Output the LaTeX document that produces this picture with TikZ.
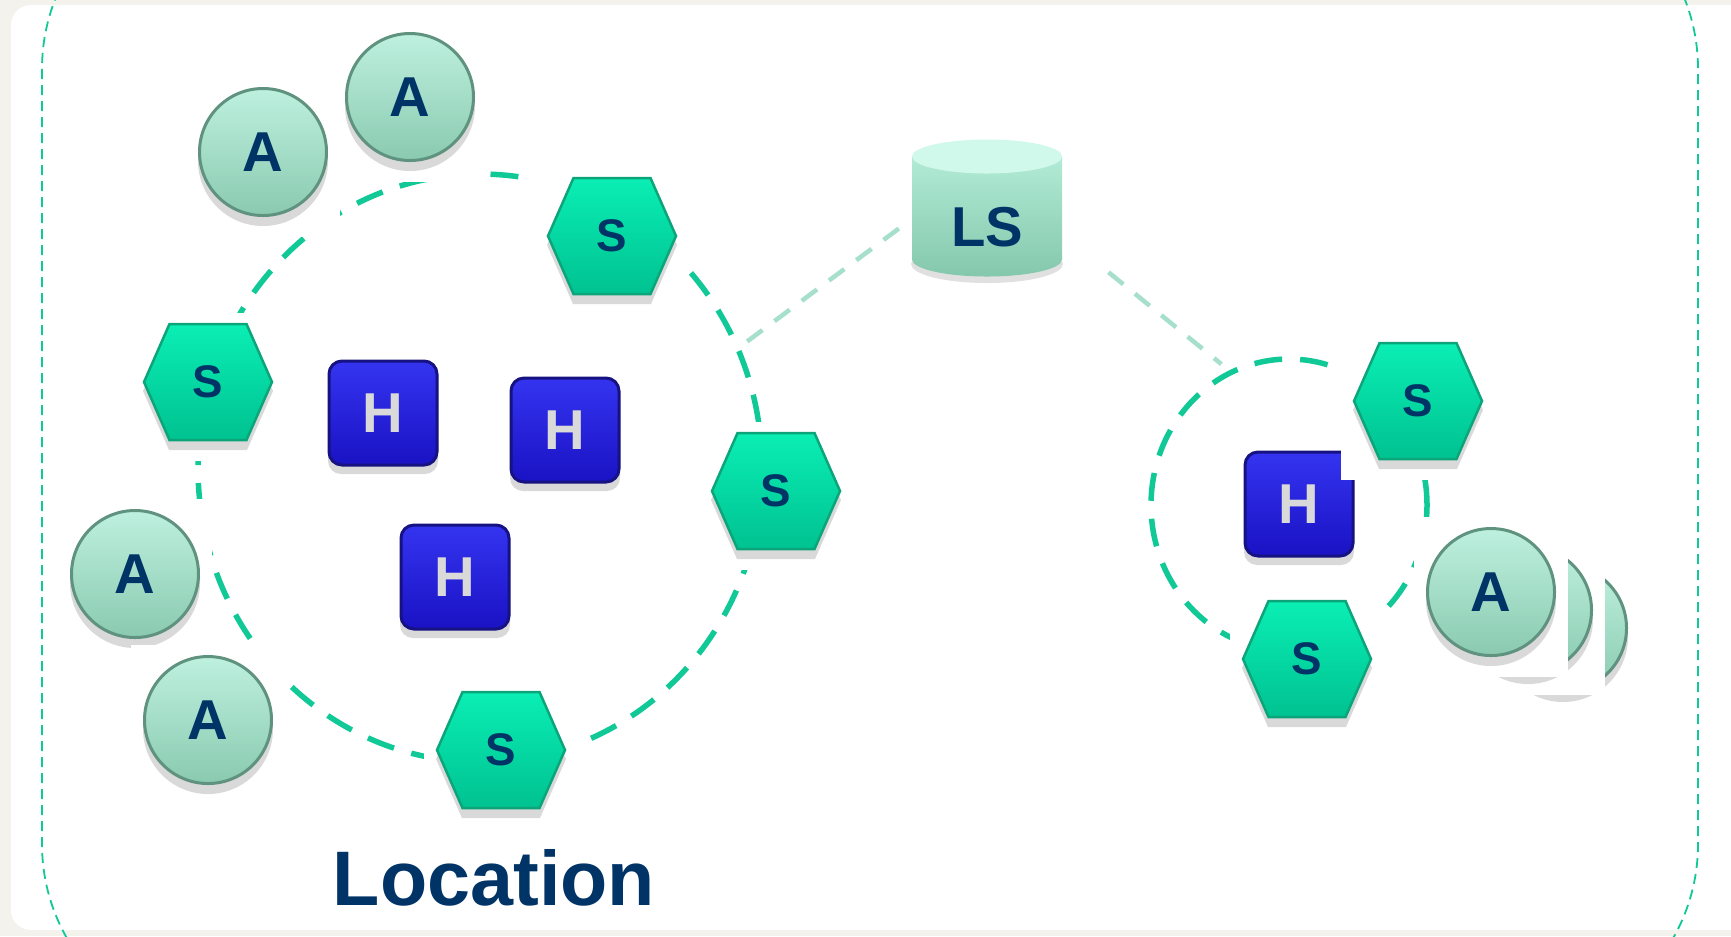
\documentclass[tikz,border=0pt]{standalone}
\usepackage{fontspec}
\setmainfont{Liberation Sans}
\usepackage{xcolor}
\usepackage{tikz}
\usetikzlibrary{shapes.geometric}
\definecolor{navy}{RGB}{0,51,102}
\definecolor{ringgreen}{RGB}{16,201,150}
\definecolor{linkgreen}{RGB}{166,224,204}
\definecolor{paper}{RGB}{244,242,237}
\definecolor{agenttop}{RGB}{190,240,223}
\definecolor{agentbot}{RGB}{138,202,176}
\definecolor{agentline}{RGB}{96,146,128}
\definecolor{servtop}{RGB}{10,238,180}
\definecolor{servbot}{RGB}{0,194,145}
\definecolor{servline}{RGB}{12,165,122}
\definecolor{hosttop}{RGB}{52,52,240}
\definecolor{hostbot}{RGB}{26,18,196}
\definecolor{hostline}{RGB}{22,18,130}
\definecolor{hostfont}{RGB}{217,217,217}
\definecolor{lslid}{RGB}{208,248,235}
\definecolor{lstop}{RGB}{178,235,214}
\definecolor{lsbot}{RGB}{132,200,172}
\tikzset{
    icon/.style={rectangle, fill=white, inner sep=0pt, yshift=-0.5mm, text depth=1mm,
        font=\bfseries\fontsize{16}{16}\selectfont, text=navy},
    agent/.style={icon, minimum width=15.4mm, minimum height=16mm,
        path picture={
            \fill[black, opacity=.15] ([yshift=-0.4mm]path picture bounding box.center) circle (6.5mm);
            \shadedraw[draw=agentline, line width=.3mm, top color=agenttop, bottom color=agentbot]
                ([yshift=0.5mm]path picture bounding box.center) circle (6.35mm);}},
    server/.style={icon, minimum width=15.4mm, minimum height=14.8mm,
        font=\bfseries\fontsize{13}{13}\selectfont,
        path picture={
            \fill[black, opacity=.15] ([shift={(6.5mm,-0.4mm)}]path picture bounding box.center)
                -- ++(-2.6mm,5.9mm) -- ++(-7.8mm,0mm) -- ++(-2.6mm,-5.9mm) -- ++(2.6mm,-5.9mm) -- ++(7.8mm,0mm) -- cycle;
            \shadedraw[draw=servline, line width=.25mm, top color=servtop, bottom color=servbot]
                ([shift={(6.4mm,0.5mm)}]path picture bounding box.center)
                -- ++(-2.55mm,5.8mm) -- ++(-7.7mm,0mm) -- ++(-2.55mm,-5.8mm) -- ++(2.55mm,-5.8mm) -- ++(7.7mm,0mm) -- cycle;}},
    host/.style={icon, minimum width=13.5mm, minimum height=13.6mm, text=hostfont,
        path picture={
            \fill[black, opacity=.15, rounded corners=1.3mm]
                ([shift={(-5.5mm,-5.6mm)}]path picture bounding box.center) rectangle ++(11mm,10.4mm);
            \shadedraw[draw=hostline, line width=.3mm, rounded corners=1.3mm, top color=hosttop, bottom color=hostbot]
                ([shift={(-5.4mm,-4.7mm)}]path picture bounding box.center) rectangle ++(10.8mm,10.4mm);}},
    store/.style={icon, minimum width=17.5mm, minimum height=16.7mm, text depth=0pt, text height=6.6mm,
        path picture={
            \fill[black, opacity=.12] ([yshift=-5.1mm]path picture bounding box.center) ellipse (7.6mm and 1.9mm);
            \shade[top color=lstop, bottom color=lsbot] ([shift={(-7.5mm,5.65mm)}]path picture bounding box.center)
                -- ++(0mm,-10.3mm) arc[start angle=180, end angle=360, x radius=7.5mm, y radius=1.7mm]
                -- ++(0mm,10.3mm) -- cycle;
            \fill[lslid] ([yshift=5.65mm]path picture bounding box.center) ellipse (7.5mm and 1.7mm);}},
    ring/.style={ellipse, draw=ringgreen, line width=.55mm, dash pattern=on 2.8mm off 1.8mm, inner sep=0pt},
    link/.style={draw=linkgreen, line width=.45mm, dash pattern=on 1.9mm off 1.5mm},
    border/.style={draw=ringgreen, line width=.18mm, dash pattern=on 1mm off .6mm},
    title/.style={font=\bfseries\fontsize{22}{22}\selectfont, text=navy, inner sep=0pt}
}
\begin{document}
\begin{tikzpicture}[x=0.1mm, y=-0.1mm]
    \useasboundingbox (0,0) rectangle (1731,936);
    \clip (0,0) rectangle (1731,936);
    \fill[paper] (0,0) rectangle (1731,936);
    \fill[white, rounded corners=2mm] (11,5) rectangle (1760,930);
    \draw[border, rounded corners=19mm] (42,-121) rectangle (1698,1034);

    % location rings
    \node[ring, minimum width=56.4mm, minimum height=58.8mm] (bigring) at (480,468) {};
    \node[ring, minimum width=27.6mm, minimum height=29.2mm] (smallring) at (1289,505) {};

    % location server and its links
    \node[store] (ls) at (987,208) {LS};
    \draw[link, shorten >=0.5mm] (ls.190) -- (bigring.25);
    \draw[link, shorten <=4.3mm, shorten >=1mm] (ls.340) -- (smallring.114);

    % first location
    \node[agent] (a1) at (263,152) {A};
    \node[agent] (a2) at (410,97) {A};
    \node[agent] (a3) at (135,574) {A};
    \node[agent] (a4) at (208,720) {A};
    \node[server] (s1) at (612,236) {S};
    \node[server] (s2) at (208,382) {S};
    \node[server] (s3) at (776,491) {S};
    \node[server] (s4) at (501,750) {S};
    \node[host] (h1) at (383,413) {H};
    \node[host] (h2) at (565,430) {H};
    \node[host] (h3) at (455,577) {H};

    % second location
    \node[host] (h4) at (1299,504) {H};
    \node[server] (s5) at (1418,401) {S};
    \node[server] (s6) at (1307,659) {S};
    \node[agent] (a7) at (1563,628) {};
    \node[agent] (a6) at (1528,610) {};
    \node[agent] (a5) at (1491,592) {A};

    \node[title] (loc) at (494,878) {Location};
\end{tikzpicture}
\end{document}
